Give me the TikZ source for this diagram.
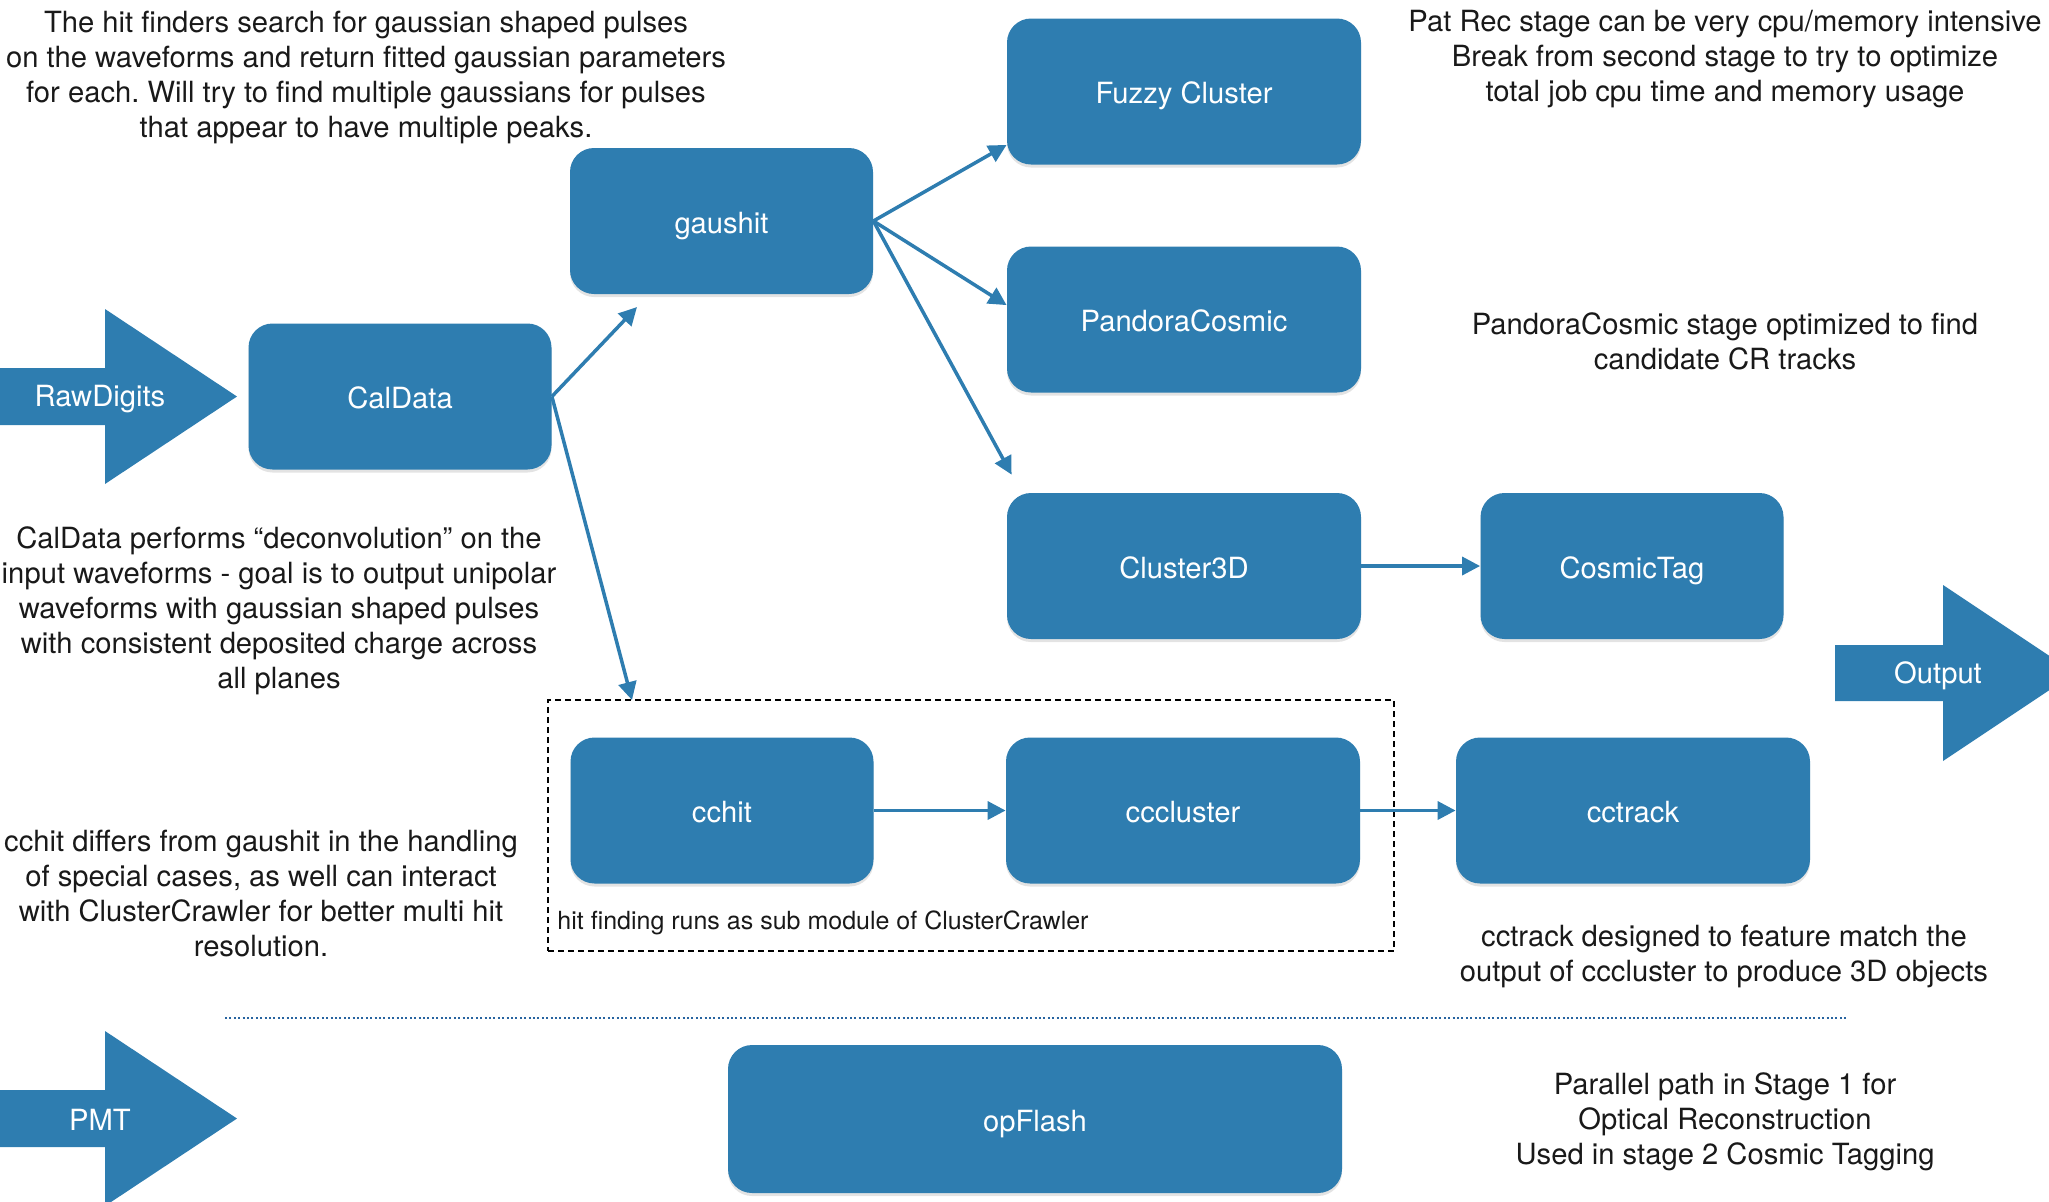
\documentclass[tikz,border=0pt]{standalone}
\usepackage{fontspec}
\setmainfont{TeX Gyre Heros}
\usetikzlibrary{arrows.meta,shadows,calc}
\definecolor{boxblue}{RGB}{46,125,176}
\definecolor{txt}{RGB}{25,25,25}
\definecolor{sepblue}{RGB}{40,100,160}
\frenchspacing
\begin{document}
\begin{tikzpicture}[x=0.5pt,y=-0.5pt,
  box/.style={rounded corners=12pt, fill=boxblue, text=white, minimum width=151.5pt,
    minimum height=73pt, inner sep=0pt, text height=12.3pt, text depth=0pt,
    drop shadow={shadow xshift=0pt, shadow yshift=-1.5pt, opacity=0.22},
    font=\fontsize{14.6}{17}\selectfont},
  wide/.style={minimum width=177pt},
  conn/.style={draw=boxblue, line width=1.75pt, -{Triangle[length=9pt,width=9pt]}},
  note/.style={text=txt, align=center, inner sep=0pt, font=\fontsize{14.6}{17.5}\selectfont},
  bignote/.style={text=txt, align=center, inner sep=0pt, font=\fontsize{14.6}{17.5}\selectfont},
  frame/.style={draw=black, line width=0.9pt, dash pattern=on 3pt off 2pt,
    minimum width=423pt, minimum height=125.5pt, inner sep=0pt},
  arrowtext/.style={text=white, inner sep=0pt, font=\fontsize{14.6}{17}\selectfont}
]
\useasboundingbox (0,0) rectangle (2049,1201);
\clip (0,0) rectangle (2049,1201);

% big block arrows
\fill[boxblue] (-10,368) -- (105,368) -- (105,309) -- (237,396.5) -- (105,484) -- (105,425) -- (-10,425) -- cycle;
\node[arrowtext] (raw) at (100,399) {RawDigits};
\fill[boxblue] (-10,1090) -- (105,1090) -- (105,1031) -- (237,1118.5) -- (105,1206) -- (105,1147) -- (-10,1147) -- cycle;
\node[arrowtext] (pmt) at (100,1120) {PMT};
\fill[boxblue] (1835,645) -- (1943,645) -- (1943,585) -- (2075,673) -- (1943,761) -- (1943,701) -- (1835,701) -- cycle;
\node[arrowtext] (out) at (1938,676) {Output};

% frame
\node[frame] (ccbox) at (971,825.5) {};
\node[anchor=west, text=txt, inner sep=0pt, font=\fontsize{12.5}{14}\selectfont] (sub) at (557,922.5) {hit finding runs as sub module of ClusterCrawler};

% boxes
\node[box] (cal) at (400,396.5) {CalData};
\node[box] (gaus) at (721.5,221) {gaushit};
\node[box,wide] (fuzzy) at (1184,91.5) {Fuzzy Cluster};
\node[box,wide] (pand) at (1184,319.5) {PandoraCosmic};
\node[box,wide] (c3d) at (1184,566) {Cluster3D};
\node[box] (ctag) at (1632,566) {CosmicTag};
\node[box] (cchit) at (722,810.5) {cchit};
\node[box,wide] (cccl) at (1183,810.5) {cccluster};
\node[box,wide] (cctr) at (1633,810.5) {cctrack};
\node[box, minimum width=307pt, minimum height=74pt] (opf) at (1035,1119) {opFlash};

% separator
\draw[sepblue, line width=1.3pt, dash pattern=on 1pt off 1.2pt] (225,1018) -- (1846,1018);

% connectors
\coordinate (gtip) at (637,307);
\coordinate (cctip) at (632,700);
\draw[conn] (cal.east) -- (gtip);
\draw[conn] (cal.east) -- (cctip);
\draw[conn] (gaus.east) -- ($(fuzzy.south west)+(0,-20)$);
\draw[conn] (gaus.east) -- ($(pand.north west)+(0,59)$);
\draw[conn] (gaus.east) -- ($(c3d.north west)+(5,-18)$);
\draw[conn] (c3d) -- (ctag);
\draw[conn] (cchit) -- (cccl);
\draw[conn] (cccl) -- (cctr);

% notes
\node[note] (n1) at (366,77) {The hit finders search for gaussian shaped pulses\\on the waveforms and return fitted gaussian parameters\\for each. Will try to find multiple gaussians for pulses\\that appear to have multiple peaks.};
\node[bignote] (n2) at (279,611) {CalData performs “deconvolution” on the\\input waveforms - goal is to output unipolar\\waveforms with gaussian shaped pulses\\with consistent deposited charge across\\all planes};
\node[bignote] (n3) at (261,894) {cchit differs from gaushit in the handling\\of special cases, as well can interact\\with ClusterCrawler for better multi hit\\resolution.};
\node[note] (n4) at (1725,59) {Pat Rec stage can be very cpu/memory intensive\\Break from second stage to try to optimize\\total job cpu time and memory usage};
\node[note] (n5) at (1725,341) {PandoraCosmic stage optimized to find\\candidate CR tracks};
\node[note] (n6) at (1724,956) {cctrack designed to feature match the\\output of cccluster to produce 3D objects};
\node[note] (n7) at (1725,1122) {Parallel path in Stage 1 for\\Optical Reconstruction\\Used in stage 2 Cosmic Tagging};
\end{tikzpicture}
\end{document}
